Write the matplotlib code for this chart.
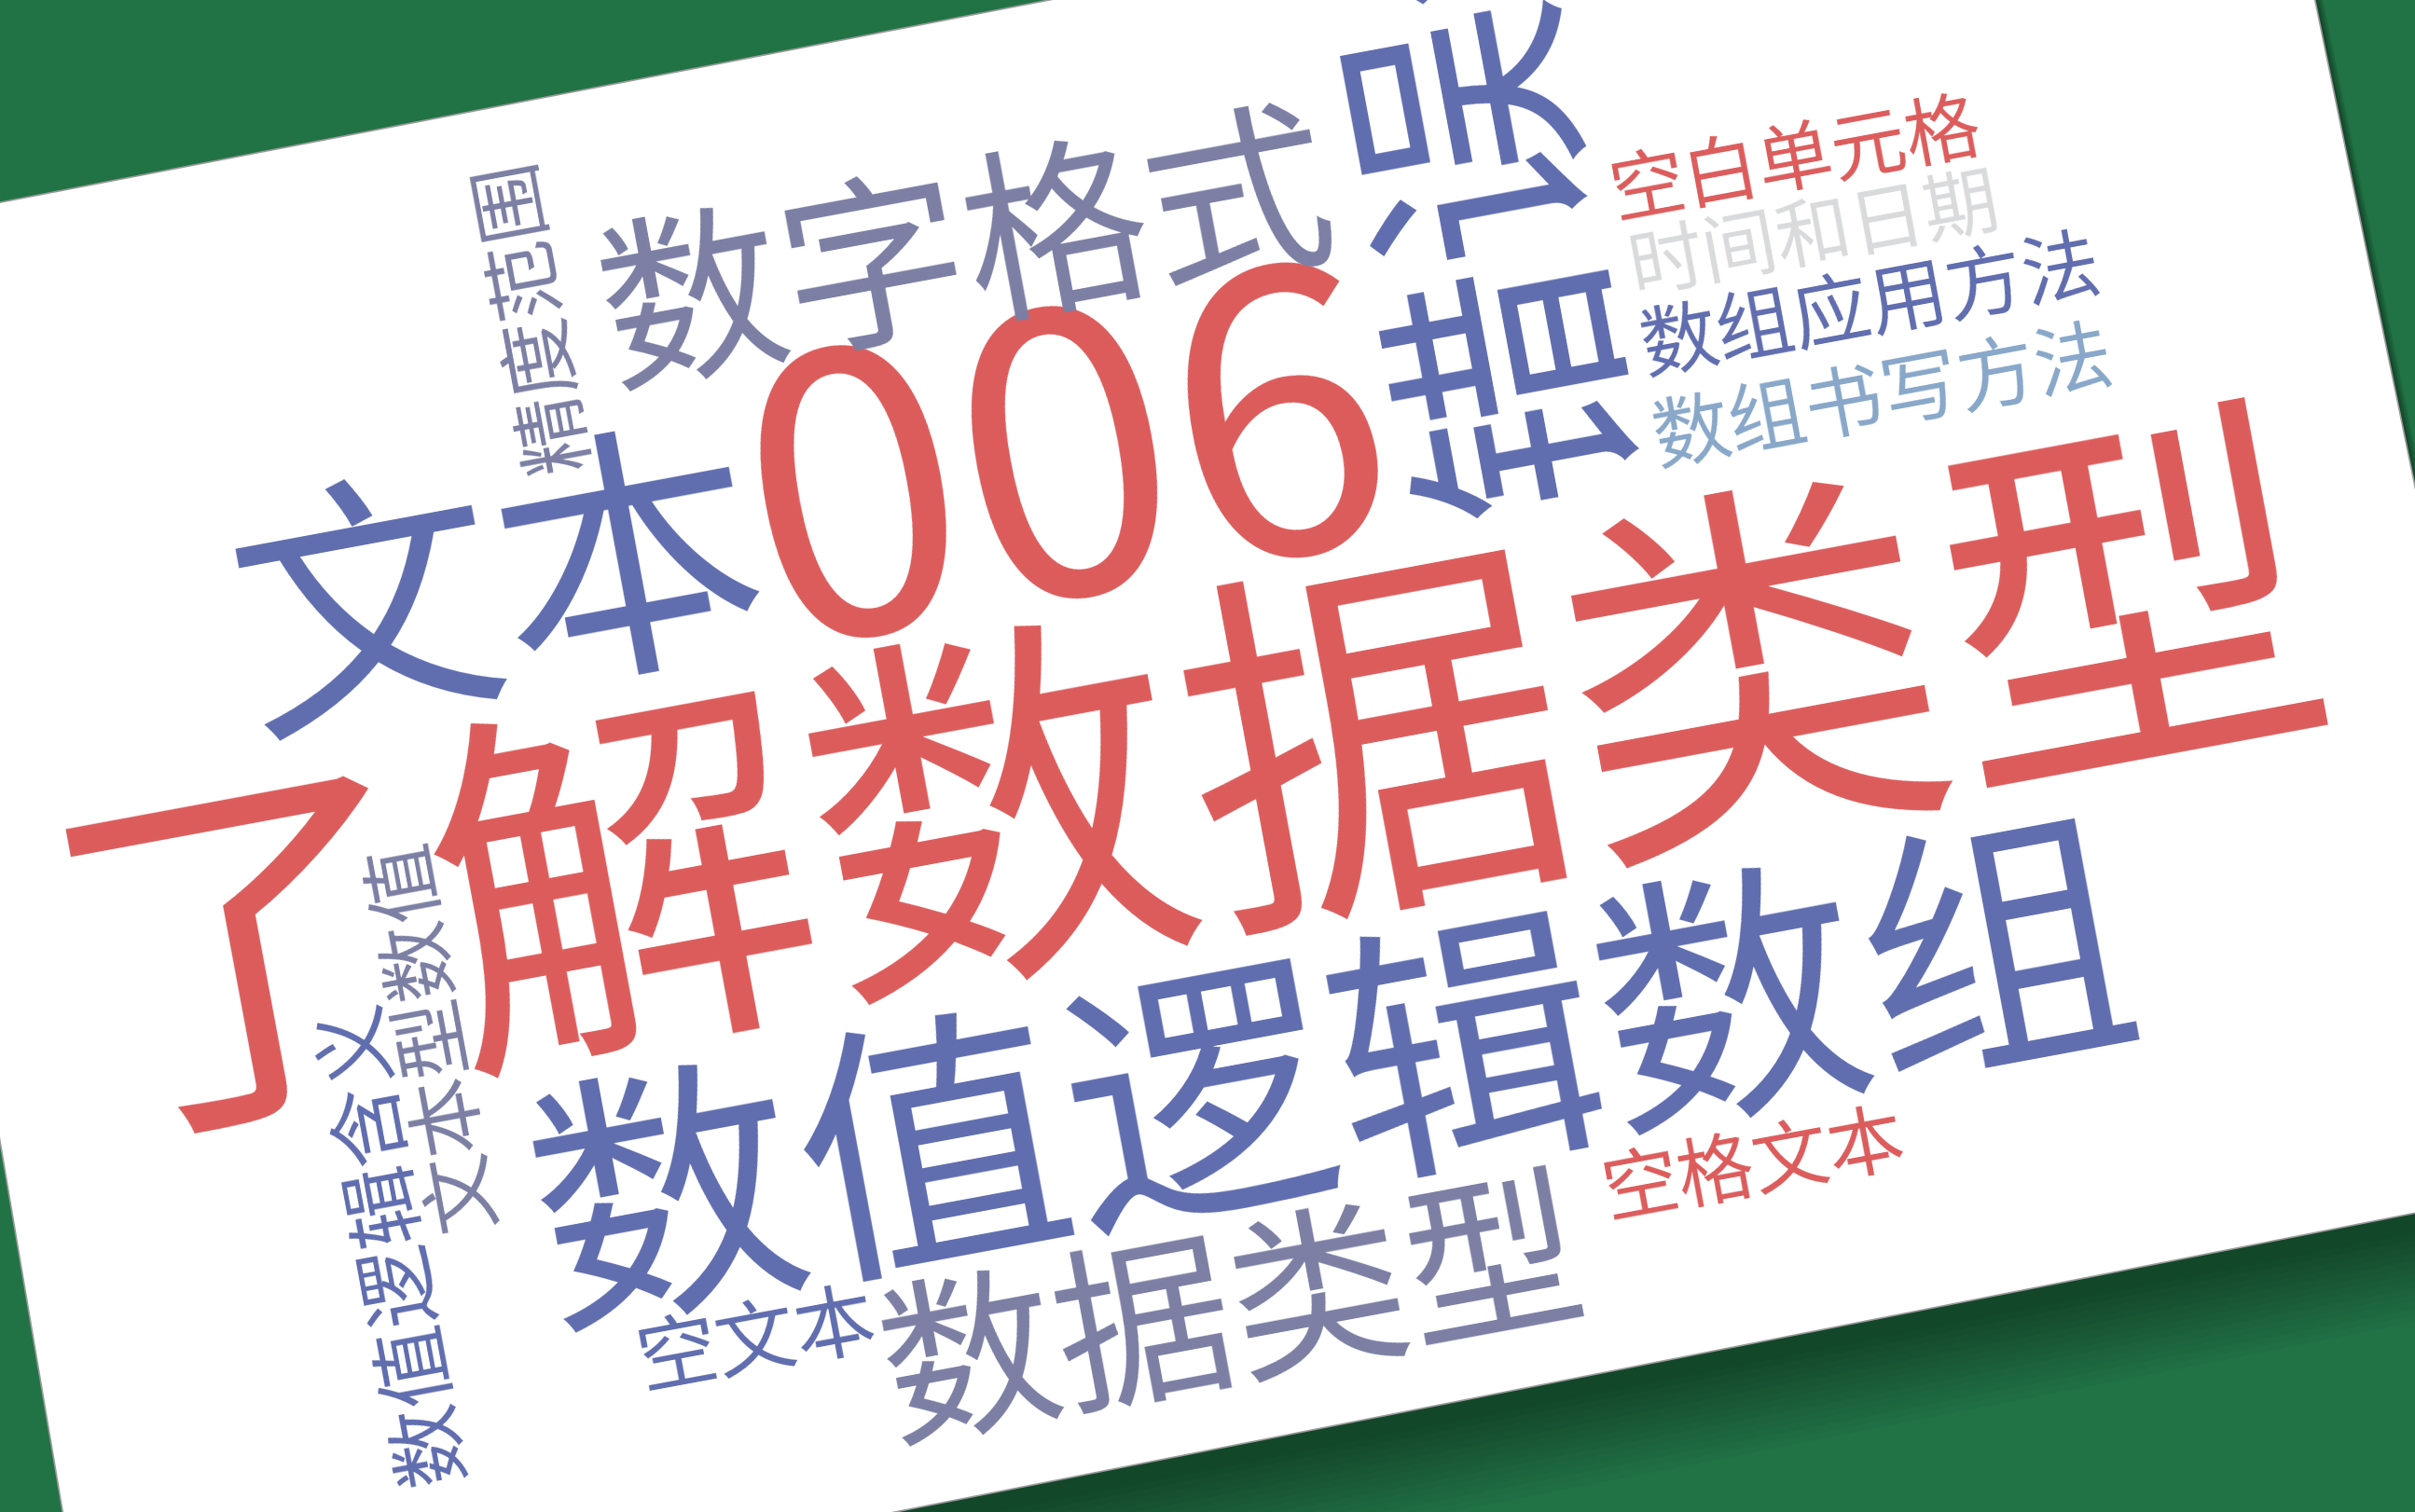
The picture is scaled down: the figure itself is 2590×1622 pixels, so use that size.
import matplotlib
matplotlib.use("Agg")
import matplotlib.pyplot as plt
from matplotlib.patches import Polygon
import numpy as np

plt.rcParams['font.family'] = ['Noto Sans CJK SC', 'DejaVu Sans']

# Word cloud data: words and their weights (font size in pt)
words = ["了解数据类型", "006", "数值逻辑数组", "文本", "错误值", "数字格式", "数据类型",
         "精度范围", "数值逻辑含义", "文本型数值", "空文本", "空格文本",
         "空白单元格", "时间和日期", "数组应用方法", "数组书写方法"]
weights = [296, 300, 209, 205, 200, 143, 137,
           61, 63, 61, 62, 59,
           58, 58, 60, 60]

# Layout (pixel coords of the ink centre of each word, rotation, colour)
RED = "#dc5b5b"
BLUE = "#5f6cae"
GREYP = "#7b7fa3"
LGREY = "#d9dadc"
LBLUE = "#88a7c9"
TILT = 10.5
layout = {
    "了解数据类型": (1272, 822, TILT, RED),
    "006": (1141, 478, TILT, RED),
    "数值逻辑数组": (1428, 1145, TILT, BLUE),
    "文本": (533, 618, TILT, BLUE),
    "错误值": (1560, 134, TILT + 90, BLUE),
    "数字格式": (1034, 262, TILT, GREYP),
    "数据类型": (1320, 1400, TILT, GREYP),
    "精度范围": (566, 339, TILT + 90, GREYP),
    "数值逻辑含义": (415, 1333, TILT + 90, BLUE),
    "文本型数值": (458, 1111, TILT + 90, GREYP),
    "空文本": (810, 1433, TILT, BLUE),
    "空格文本": (1880, 1245, TILT, RED),
    "空白单元格": (1925, 166, TILT, RED),
    "时间和日期": (1945, 247, TILT, LGREY),
    "数组应用方法": (2006, 324, TILT, BLUE),
    "数组书写方法": (2019, 421, TILT, LBLUE),
}

W, H = 2590, 1622
GREEN = "#217346"
card = np.array([[-165, 249], [2431, -252], [2744, 1271], [96, 1792]])

fig = plt.figure(figsize=(W / 100, H / 100), dpi=100)
fig.patch.set_facecolor(GREEN)
ax = fig.add_axes([0, 0, 1, 1])
ax.set_xlim(0, W)
ax.set_ylim(H, 0)
ax.axis("off")
ax.set_facecolor(GREEN)

# soft drop shadow under the card
n = 14
for i in range(n):
    dy = 20 + i * 7
    dx = 6 + i * 2.0
    ax.add_patch(Polygon(card + [dx, dy], closed=True, facecolor="black",
                         edgecolor="none", alpha=0.028, zorder=1))

ax.add_patch(Polygon(card, closed=True, facecolor="white", edgecolor="#9a9a9a",
                     linewidth=1.2, zorder=2))

for w, s in zip(words, weights):
    x, y, rot, col = layout[w]
    # va="center" centres the "lp" box; glyph ink sits ~0.09 em higher
    em = s * 100 / 72
    r = np.radians(rot)
    x += 0.09 * em * np.sin(r)
    y += 0.09 * em * np.cos(r)
    ax.text(x, y, w, fontsize=s, color=col, rotation=rot, rotation_mode="anchor",
            ha="center", va="center", zorder=3)

fig.savefig("out.png", dpi=100, facecolor=GREEN)
